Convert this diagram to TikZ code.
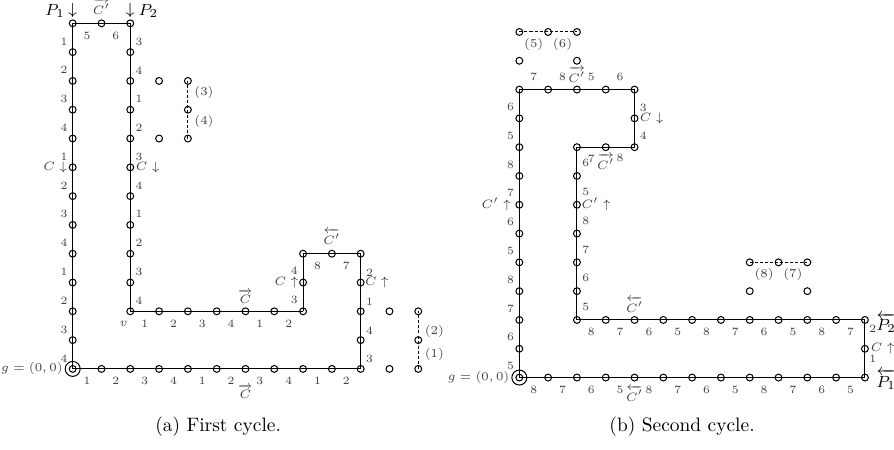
\documentclass[tikz,border=0pt]{standalone}
\usepackage{amsmath}
\usetikzlibrary{positioning}

\tikzset{
  vtx/.style={circle,draw,inner sep=0pt,minimum size=3.4pt},
  ring/.style={circle,draw,inner sep=0pt,minimum size=7.4pt},
  num/.style={font=\fontsize{5.5}{6}\selectfont,inner sep=1pt,text=black!75},
  tag/.style={font=\fontsize{6}{7}\selectfont,inner sep=1pt,text=black!75},
  lbl/.style={font=\fontsize{6.2}{7}\selectfont,inner sep=1pt,text=black!75,on grid},
  pth/.style={font=\footnotesize,inner sep=1pt,on grid},
  extra/.style={dash pattern=on 1.5pt off 1pt},
}

\begin{document}
\begin{tikzpicture}[x=0.5cm,y=0.5cm,line width=0.5pt]
\useasboundingbox (-2.524,-2.81) rectangle (28.52,12.81);

% (a) first cycle
\foreach \y in {0,...,12} \node[vtx] (a-0-\y) at (0,\y) {};
\node[vtx] (a-1-12) at (1,12) {};
\foreach \y in {2,...,12} \node[vtx] (a-2-\y) at (2,\y) {};
\foreach \x in {3,...,8} \node[vtx] (a-\x-2) at (\x,2) {};
\node[vtx] (a-8-3) at (8,3) {};
\node[vtx] (a-8-4) at (8,4) {};
\node[vtx] (a-9-4) at (9,4) {};
\foreach \y in {1,...,4} \node[vtx] (a-10-\y) at (10,\y) {};
\foreach \x in {1,...,10} \node[vtx] (a-\x-0) at (\x,0) {};
\foreach \x/\y in {3/10,4/10,4/9,3/8,4/8,11/2,12/2,12/1,11/0,12/0}
  \node[vtx] (a-\x-\y) at (\x,\y) {};
\node[ring] (a-g) at (0,0) {};

\foreach \y [evaluate=\y as \n using {int(\y+1)},
             evaluate=\y as \l using {int(mod(11-\y,4)+1)}] in {0,...,11}
  \draw (a-0-\y.center) -- node[num,left=1.4pt,pos=.37] {\l} (a-0-\n.center);
\draw (a-0-12.center) -- node[num,below=2.9pt] {5} (a-1-12.center)
  -- node[num,below=2.9pt] {6} (a-2-12.center);
\foreach \y [evaluate=\y as \n using {int(\y+1)},
             evaluate=\y as \l using {int(mod(13-\y,4)+1)}] in {2,...,11}
  \draw (a-2-\y.center) -- node[num,right=1.4pt,pos=.37] {\l} (a-2-\n.center);
\foreach \x [evaluate=\x as \n using {int(\x+1)},
             evaluate=\x as \l using {int(mod(\x-2,4)+1)}] in {2,...,7}
  \draw (a-\x-2.center) -- node[num,below=2.9pt] {\l} (a-\n-2.center);
\draw (a-8-2.center) -- node[num,left=1.4pt,pos=.4] {3} (a-8-3.center)
  -- node[num,left=1.4pt,pos=.4] {4} (a-8-4.center);
\draw (a-8-4.center) -- node[num,below=2.9pt] {8} (a-9-4.center)
  -- node[num,below=2.9pt] {7} (a-10-4.center);
\foreach \y [evaluate=\y as \n using {int(\y+1)},
             evaluate=\y as \l using {int(mod(\y+2,4)+1)}] in {0,...,3}
  \draw (a-10-\y.center) -- node[num,right=1.4pt,pos=.33] {\l} (a-10-\n.center);
\foreach \x [evaluate=\x as \n using {int(\x+1)},
             evaluate=\x as \l using {int(mod(\x,4)+1)}] in {0,...,9}
  \draw (a-\x-0.center) -- node[num,below=2.9pt] {\l} (a-\n-0.center);

\draw[extra] (a-4-8.center) -- node[tag,right=2pt,pos=.6] {(4)} (a-4-9.center)
  -- node[tag,right=2pt,pos=.6] {(3)} (a-4-10.center);
\draw[extra] (a-12-0.center) -- node[tag,right=2pt,pos=.5] {(1)} (a-12-1.center)
  -- node[tag,right=2pt,pos=.3] {(2)} (a-12-2.center);

\node[pth,above=6.2pt of a-0-12] (a-p1arr) {$\downarrow$};
\node[pth,left=8.7pt of a-p1arr] (a-p1) {$P_1$};
\node[pth,above=6.2pt of a-2-12] (a-p2arr) {$\downarrow$};
\node[pth,right=9pt of a-p2arr] (a-p2) {$P_2$};
\node[lbl,above=8.3pt of a-1-12] (a-ctop) {$\overrightarrow{C'}$};
\node[lbl,left=8.6pt of a-0-7] (a-cl) {$C\downarrow$};
\node[lbl,right=8.6pt of a-2-7] (a-ci) {$C\downarrow$};
\node[lbl,below left=6pt and 3.3pt of a-2-2] (a-v) {$v$};
\node[lbl,left=3.7pt of a-g,anchor=east] (a-glbl) {$g=(0,0)$};
\node[lbl,left=8.2pt of a-8-3] (a-cs) {$C\uparrow$};
\node[lbl,right=8pt of a-10-3] (a-cr) {$C\uparrow$};
\node[lbl,above=8.4pt of a-9-4] (a-cstep) {$\overleftarrow{C'}$};
\node[lbl,above=7.2pt of a-6-2] (a-cin) {$\overrightarrow{C}$};
\node[lbl,below=11.2pt of a-6-0] (a-cbot) {$\overrightarrow{C}$};

% (b) second cycle
\begin{scope}[shift={(15.51,-0.30)}]
\foreach \y in {0,...,10} \node[vtx] (b-0-\y) at (0,\y) {};
\foreach \x in {1,...,4} \node[vtx] (b-\x-10) at (\x,10) {};
\node[vtx] (b-4-9) at (4,9) {};
\node[vtx] (b-4-8) at (4,8) {};
\node[vtx] (b-3-8) at (3,8) {};
\foreach \y in {2,...,8} \node[vtx] (b-2-\y) at (2,\y) {};
\foreach \x in {3,...,12} \node[vtx] (b-\x-2) at (\x,2) {};
\node[vtx] (b-12-1) at (12,1) {};
\foreach \x in {1,...,12} \node[vtx] (b-\x-0) at (\x,0) {};
\foreach \x/\y in {0/12,1/12,2/12,0/11,2/11,8/4,9/4,10/4,8/3,10/3}
  \node[vtx] (b-\x-\y) at (\x,\y) {};
\node[ring] (b-g) at (0,0) {};
\end{scope}

\foreach \y [evaluate=\y as \n using {int(\y+1)},
             evaluate=\y as \l using {int(mod(\y,4)+5)}] in {0,...,9}
  \draw (b-0-\y.center) -- node[num,left=1.4pt,pos=.4] {\l} (b-0-\n.center);
\foreach \x [evaluate=\x as \n using {int(\x+1)},
             evaluate=\x as \l using {int(mod(\x+2,4)+5)}] in {0,...,3}
  \draw (b-\x-10.center) -- node[num,above=2.9pt] {\l} (b-\n-10.center);
\draw (b-4-8.center) -- node[num,right=1.4pt,pos=.4] {4} (b-4-9.center)
  -- node[num,right=1.4pt,pos=.37] {3} (b-4-10.center);
\draw (b-2-8.center) -- node[num,below=2.4pt] {7} (b-3-8.center)
  -- node[num,below=2.4pt] {8} (b-4-8.center);
\foreach \y [evaluate=\y as \n using {int(\y+1)},
             evaluate=\y as \l using {int(mod(\y+2,4)+5)}] in {2,...,7}
  \draw (b-2-\y.center) -- node[num,right=1.4pt,pos=.45] {\l} (b-2-\n.center);
\foreach \x [evaluate=\x as \n using {int(\x+1)},
             evaluate=\x as \l using {int(8-mod(\x-2,4))}] in {2,...,11}
  \draw (b-\x-2.center) -- node[num,below=2.9pt] {\l} (b-\n-2.center);
\foreach \x [evaluate=\x as \n using {int(\x+1)},
             evaluate=\x as \l using {int(8-mod(\x,4))}] in {0,...,11}
  \draw (b-\x-0.center) -- node[num,below=2.9pt] {\l} (b-\n-0.center);
\draw (b-12-0.center) -- node[num,right=.9pt,pos=.64] {1} (b-12-1.center)
  -- node[num,right=.9pt,pos=.68] {2} (b-12-2.center);

\draw[extra] (b-0-12.center) -- node[tag,below=1.8pt] {(5)} (b-1-12.center)
  -- node[tag,below=1.8pt] {(6)} (b-2-12.center);
\draw[extra] (b-8-4.center) -- node[tag,below=1.8pt] {(8)} (b-9-4.center)
  -- node[tag,below=1.8pt] {(7)} (b-10-4.center);

\node[lbl,left=11.4pt of b-0-6] (b-cl) {$C'\uparrow$};
\node[lbl,right=9.5pt of b-2-6] (b-ci) {$C'\uparrow$};
\node[lbl,above=7.3pt of b-2-10] (b-ctop) {$\overrightarrow{C'}$};
\node[lbl,right=8.5pt of b-4-9] (b-cr) {$C\downarrow$};
\node[lbl,below=7.1pt of b-3-8] (b-cstep) {$\overrightarrow{C'}$};
\node[lbl,above=7.4pt of b-4-2] (b-cin) {$\overleftarrow{C'}$};
\node[lbl,below=7.8pt of b-4-0] (b-cbot) {$\overleftarrow{C'}$};
\node[lbl,right=8.8pt of b-12-1] (b-cend) {$C\uparrow$};
\node[lbl,left=3.7pt of b-g,anchor=east] (b-glbl) {$g=(0,0)$};
\node[pth,below right=1.5pt and 10.5pt of b-12-2] (b-p2) {$\overleftarrow{P_2}$};
\node[pth,below right=1pt and 10.5pt of b-12-0] (b-p1) {$\overleftarrow{P_1}$};

% captions
\node[font=\fontsize{9.6}{11}\selectfont] (cap-a) at (5.05,-2.01) {(a) First cycle.};
\node[font=\fontsize{9.6}{11}\selectfont] (cap-b) at (21.16,-2.01) {(b) Second cycle.};
\end{tikzpicture}
\end{document}
